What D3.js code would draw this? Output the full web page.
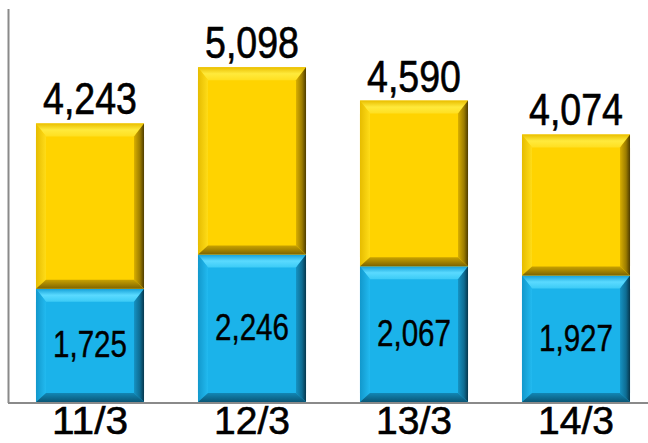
<!DOCTYPE html>
<html><head><meta charset="utf-8">
<script src="https://cdn.jsdelivr.net/npm/d3@7"></script>
<style>html,body{margin:0;padding:0;background:#fff;}svg{display:block;}</style>
</head><body>
<svg id="c" width="648" height="443"></svg>
<script>
const categories = ["11/3", "12/3", "13/3", "14/3"];
const bottomValues = [1725, 2246, 2067, 1927];
const totalValues = [4243, 5098, 4590, 4074];

const W = 648, H = 443;
const svg = d3.select("#c");
const x = d3.scaleBand().domain(categories).range([9, 657]).paddingInner(0.333).paddingOuter(0.1665);
const y = d3.scaleLinear().domain([0, 6000]).range([402, 8]);

const defs = svg.append("defs");
function grad(id, x2, y2, stops) {
  const g = defs.append("linearGradient").attr("id", id)
    .attr("x1", 0).attr("y1", 0).attr("x2", x2).attr("y2", y2);
  stops.forEach(([o, c]) => g.append("stop").attr("offset", o).attr("stop-color", c));
}
const pal = {
  y: {main: "#FFD300", top: [["0", "#E9BE00"], ["0.5", "#FFEA3C"], ["1", "#FFDF20"]],
      left: [["0", "#E6BC00"], ["1", "#FFDC18"]],
      right: [["0", "#D8AE00"], ["0.6", "#9C7C00"], ["1", "#4E3C00"]],
      bottom: [["0", "#C9A200"], ["1", "#7E6400"]]},
  b: {main: "#1BB3EA", top: [["0", "#14A0D8"], ["0.5", "#5ADAFF"], ["1", "#3CCBF6"]],
      left: [["0", "#1298CC"], ["1", "#22BAF0"]],
      right: [["0", "#1592C2"], ["0.6", "#0E6C92"], ["1", "#06364C"]],
      bottom: [["0", "#1287B4"], ["1", "#0A5676"]]}
};
Object.entries(pal).forEach(([k, p]) => {
  grad(k + "top", 0, 1, p.top);
  grad(k + "left", 1, 0, p.left);
  grad(k + "right", 1, 0, p.right);
  grad(k + "bottom", 0, 1, p.bottom);
});

const segs = [];
categories.forEach((c, i) => {
  segs.push({c, k: "b", y0: 0, y1: bottomValues[i]});
  segs.push({c, k: "y", y0: bottomValues[i], y1: totalValues[i]});
});

const t = 13, s = 10, b = 9;
const g = svg.append("g");
segs.forEach(d => {
  const x0 = x(d.c), x1 = x(d.c) + x.bandwidth();
  const yT = y(d.y1), yB = y(d.y0);
  const gg = g.append("g");
  gg.append("rect").attr("x", x0).attr("y", yT).attr("width", x1 - x0).attr("height", yB - yT)
    .attr("fill", pal[d.k].main);
  const poly = (pts, f) => gg.append("polygon").attr("points", pts.map(p => p.join(",")).join(" ")).attr("fill", f);
  poly([[x0, yT], [x1, yT], [x1 - s, yT + t], [x0 + s, yT + t]], `url(#${d.k}top)`);
  poly([[x0, yT], [x0 + s, yT + t], [x0 + s, yB - b], [x0, yB]], `url(#${d.k}left)`);
  poly([[x1, yT], [x1, yB], [x1 - s, yB - b], [x1 - s, yT + t]], `url(#${d.k}right)`);
  poly([[x0, yB], [x1, yB], [x1 - s, yB - b], [x0 + s, yB - b]], `url(#${d.k}bottom)`);
});

// axes
svg.append("line").attr("x1", 8.5).attr("x2", 8.5).attr("y1", y(6000) + 1).attr("y2", y(0) + 1)
  .attr("stroke", "#8a8a8a").attr("stroke-width", 2);
svg.append("line").attr("x1", 8).attr("x2", W).attr("y1", y(0) + 1).attr("y2", y(0) + 1)
  .attr("stroke", "#8a8a8a").attr("stroke-width", 2);

const font = "'Liberation Sans',Arial,sans-serif";
const fmt = d3.format(",");
// totals
svg.selectAll(".tot").data(categories).join("text")
  .attr("x", c => x(c) + x.bandwidth() / 2)
  .attr("y", (c, i) => y(totalValues[i]) - 9)
  .attr("text-anchor", "middle").attr("font-family", font).attr("font-size", 44)
  .attr("textLength", 94).attr("lengthAdjust", "spacingAndGlyphs")
  .attr("fill", "#000").attr("stroke", "#000").attr("stroke-width", 0.6)
  .text((c, i) => fmt(totalValues[i]));
// bottom labels
svg.selectAll(".bot").data(categories).join("text")
  .attr("x", c => x(c) + x.bandwidth() / 2)
  .attr("y", (c, i) => (y(0) + y(bottomValues[i])) / 2 + 12)
  .attr("text-anchor", "middle").attr("font-family", font).attr("font-size", 36)
  .attr("textLength", 74).attr("lengthAdjust", "spacingAndGlyphs")
  .attr("fill", "#000").attr("stroke", "#000").attr("stroke-width", 0.4)
  .text((c, i) => fmt(bottomValues[i]));
// categories
svg.selectAll(".cat").data(categories).join("text")
  .attr("x", c => x(c) + x.bandwidth() / 2)
  .attr("y", 434)
  .attr("text-anchor", "middle").attr("font-family", font).attr("font-size", 39)
  .attr("textLength", 76).attr("lengthAdjust", "spacingAndGlyphs")
  .attr("fill", "#000").attr("stroke", "#000").attr("stroke-width", 0.6)
  .text(c => c);
</script>
</body></html>
